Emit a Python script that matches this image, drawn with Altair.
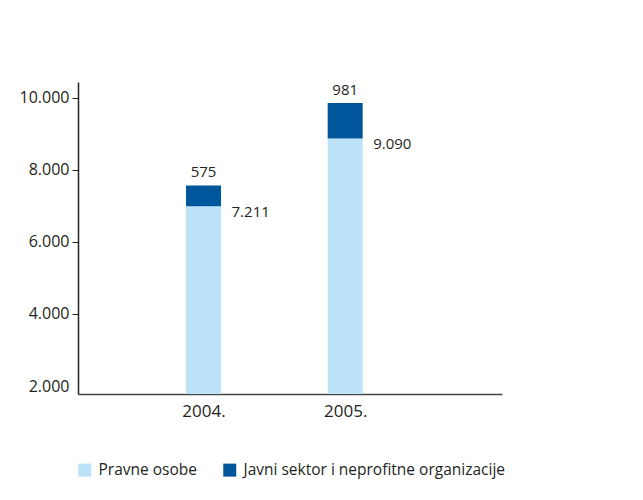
import altair as alt
import pandas as pd

years = [2004, 2005]
series = ["Pravne osobe", "Javni sektor i neprofitne organizacije"]
pravne = [7211, 9090]
javni = [575, 981]
y_ticks = [2000, 4000, 6000, 8000, 10000]

rows = []
for i, yr in enumerate(years):
    rows.append({"year": yr, "series": series[0], "value": pravne[i], "order": 0})
    rows.append({"year": yr, "series": series[1], "value": javni[i], "order": 1})
df = pd.DataFrame(rows)

lab = pd.DataFrame({"year": years, "pravne": pravne, "javni": javni})
lab["total"] = lab["pravne"] + lab["javni"]

FONT = "Open Sans"
TXT = "#231F20"
LIGHT = "#BCE3F7"
DARK = "#00569A"

xscale = alt.Scale(domain=[2003.149, 2006.072], nice=False, zero=False)
yscale = alt.Scale(domain=[2000, 10655], clamp=True, nice=False, zero=False)

bars = alt.Chart(df).mark_bar(width=35).encode(
    x=alt.X("year:Q", scale=xscale, title=None,
            axis=alt.Axis(values=years, ticks=False, grid=False, labelExpr="datum.value + '.'",
                          labelFontSize=17, labelColor=TXT, labelPadding=9, labelFont=FONT,
                          domainColor="#444444", domainWidth=1.5)),
    y=alt.Y("value:Q", stack="zero", scale=yscale, title=None,
            axis=alt.Axis(values=y_ticks, grid=False, tickOffset=-8,
                          labelExpr="replace(format(datum.value, ','), ',', '.')",
                          labelFontSize=16, labelColor=TXT, labelFont=FONT, labelPadding=3,
                          tickColor="#222222", tickSize=6,
                          tickOpacity={"condition": {"test": "datum.value == 2000", "value": 0}, "value": 1},
                          domainColor="#222222", domainWidth=1.5)),
    color=alt.Color("series:N", scale=alt.Scale(domain=series, range=[LIGHT, DARK]),
                    legend=alt.Legend(title=None, orient="none", legendX=-1, legendY=380,
                                      direction="horizontal", columns=2, columnPadding=25,
                                      symbolType="square", symbolSize=169, symbolStrokeWidth=0,
                                      symbolOpacity=1, labelFontSize=15.5, labelColor=TXT,
                                      labelFont=FONT, labelOffset=6, padding=0, labelLimit=0)),
    order=alt.Order("order:Q"),
)

top_lab = alt.Chart(lab).transform_calculate(
    t="replace(format(datum.javni, ','), ',', '.')"
).mark_text(baseline="bottom", dy=-5, fontSize=15, font=FONT, color=TXT).encode(
    x=alt.X("year:Q", scale=xscale), y=alt.Y("total:Q", scale=yscale), text="t:N")

side_lab = alt.Chart(lab).transform_calculate(
    t="replace(format(datum.pravne, ','), ',', '.')"
).mark_text(baseline="top", align="left", dx=28, dy=-1, fontSize=15, font=FONT, color=TXT).encode(
    x=alt.X("year:Q", scale=xscale), y=alt.Y("pravne:Q", scale=yscale), text="t:N")

chart = alt.layer(bars, top_lab, side_lab).properties(
    width=424, height=312,
    autosize=alt.AutoSizeParams(type="none"),
    padding={"left": 70, "top": 74, "right": 117, "bottom": 90},
    background="white",
).configure_view(strokeWidth=0, stroke=None)

chart.save("out.html", embed_options={"renderer": "svg", "actions": False})
